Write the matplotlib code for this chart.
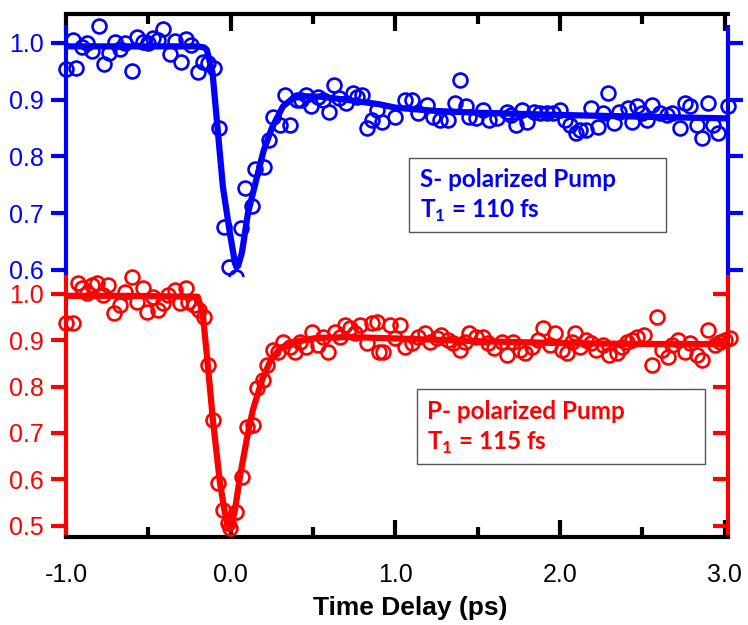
import matplotlib
matplotlib.use("Agg")
import matplotlib.pyplot as plt
from matplotlib.patches import Rectangle
from matplotlib.ticker import MultipleLocator, FormatStrFormatter

plt.rcParams['font.family'] = ['Liberation Sans', 'DejaVu Sans']
plt.rcParams['axes.unicode_minus'] = False
plt.rcParams['mathtext.fontset'] = 'custom'
plt.rcParams['mathtext.rm'] = 'Lato:bold'
plt.rcParams['mathtext.bf'] = 'Lato:bold'

BLUE = '#0000ff'
RED = '#ff0000'

# S-polarized pump: measured points (time in ps, normalized signal)
s_t = [-1.00, -0.96, -0.94, -0.90, -0.87, -0.84, -0.80, -0.77, -0.74, -0.70,
       -0.67, -0.64, -0.60, -0.57, -0.53, -0.50, -0.47, -0.44, -0.41, -0.37,
       -0.34, -0.30, -0.27, -0.24, -0.20, -0.17, -0.14, -0.10, -0.07, -0.04,
       -0.01, 0.03, 0.06, 0.09, 0.13, 0.15, 0.20, 0.23, 0.26, 0.30,
       0.33, 0.36, 0.40, 0.43, 0.46, 0.49, 0.53, 0.56, 0.60, 0.63,
       0.66, 0.70, 0.74, 0.77, 0.80, 0.83, 0.86, 0.89, 0.92, 1.00,
       1.06, 1.10, 1.14, 1.19, 1.23, 1.27, 1.32, 1.36, 1.39, 1.43,
       1.45, 1.49, 1.53, 1.57, 1.62, 1.68, 1.70, 1.73, 1.77, 1.80,
       1.84, 1.88, 1.92, 1.96, 2.00, 2.03, 2.06, 2.10, 2.12, 2.16,
       2.19, 2.23, 2.26, 2.29, 2.33, 2.36, 2.41, 2.44, 2.47, 2.50,
       2.53, 2.56, 2.61, 2.65, 2.68, 2.73, 2.76, 2.79, 2.83, 2.86,
       2.90, 2.93, 2.96, 3.02]
s_y = [0.954, 1.005, 0.956, 0.993, 1.000, 0.985, 1.030, 0.963, 0.982, 1.002,
       0.989, 1.000, 0.951, 1.010, 1.002, 1.000, 1.008, 1.005, 1.025, 0.980,
       1.004, 0.967, 1.007, 0.996, 0.948, 0.967, 0.964, 0.956, 0.850, 0.676,
       0.605, 0.588, 0.674, 0.744, 0.713, 0.777, 0.782, 0.829, 0.870, 0.855,
       0.908, 0.855, 0.900, 0.900, 0.908, 0.888, 0.905, 0.900, 0.878, 0.926,
       0.903, 0.894, 0.912, 0.905, 0.908, 0.850, 0.864, 0.882, 0.861, 0.870,
       0.900, 0.900, 0.877, 0.891, 0.870, 0.864, 0.864, 0.894, 0.935, 0.889,
       0.870, 0.868, 0.882, 0.864, 0.868, 0.878, 0.873, 0.855, 0.882, 0.861,
       0.878, 0.877, 0.877, 0.877, 0.882, 0.864, 0.855, 0.841, 0.847, 0.847,
       0.885, 0.852, 0.877, 0.912, 0.859, 0.878, 0.885, 0.861, 0.888, 0.877,
       0.864, 0.891, 0.877, 0.873, 0.877, 0.850, 0.894, 0.888, 0.855, 0.832,
       0.894, 0.855, 0.841, 0.888]

# S-polarized fit curve
s_fit_t = [-1.00, -0.60, -0.20, -0.16, -0.145, -0.11, -0.077, -0.047, -0.005,
           0.026, 0.035, 0.045, 0.068, 0.105, 0.16, 0.20, 0.25, 0.317, 0.38,
           0.46, 0.55, 0.70, 0.90, 1.00, 1.25, 1.50, 2.00, 2.50, 3.02]
s_fit_y = [0.994, 0.994, 0.994, 0.992, 0.988, 0.947, 0.841, 0.746, 0.665,
           0.612, 0.605, 0.607, 0.630, 0.700, 0.764, 0.810, 0.850, 0.888, 0.903,
           0.906, 0.905, 0.900, 0.892, 0.886, 0.880, 0.877, 0.873, 0.870, 0.867]

# P-polarized pump: measured points
p_t = [-1.00, -0.96, -0.93, -0.90, -0.87, -0.84, -0.81, -0.775, -0.745, -0.71,
       -0.67, -0.64, -0.60, -0.57, -0.53, -0.51, -0.47, -0.44, -0.41, -0.38,
       -0.34, -0.31, -0.27, -0.26, -0.22, -0.19, -0.16, -0.14, -0.11, -0.075,
       -0.047, -0.017, -0.005, 0.035, 0.066, 0.10, 0.135, 0.16, 0.196, 0.22,
       0.257, 0.287, 0.317, 0.36, 0.39, 0.42, 0.457, 0.493, 0.53, 0.56,
       0.59, 0.633, 0.663, 0.693, 0.724, 0.754, 0.785, 0.827, 0.857, 0.89,
       0.90, 0.924, 0.967, 0.997, 1.027, 1.058, 1.10, 1.137, 1.18, 1.21,
       1.25, 1.28, 1.32, 1.35, 1.39, 1.42, 1.45, 1.49, 1.53, 1.56,
       1.60, 1.645, 1.675, 1.713, 1.755, 1.786, 1.828, 1.865, 1.895, 1.937,
       1.968, 2.01, 2.04, 2.07, 2.09, 2.12, 2.16, 2.19, 2.22, 2.26,
       2.30, 2.345, 2.375, 2.405, 2.44, 2.47, 2.51, 2.56, 2.59, 2.62,
       2.655, 2.68, 2.715, 2.757, 2.79, 2.83, 2.86, 2.90, 2.94, 2.97,
       3.00, 3.03]
p_y = [0.937, 0.937, 1.024, 1.013, 1.002, 1.020, 1.024, 0.998, 1.020, 0.959,
       0.976, 1.004, 1.037, 0.983, 1.013, 0.961, 0.994, 0.965, 0.980, 0.998,
       1.009, 0.980, 1.013, 0.983, 0.976, 0.965, 0.950, 0.847, 0.728, 0.592,
       0.533, 0.505, 0.495, 0.529, 0.605, 0.713, 0.717, 0.797, 0.814, 0.847,
       0.879, 0.875, 0.896, 0.886, 0.875, 0.896, 0.886, 0.918, 0.890, 0.907,
       0.875, 0.918, 0.907, 0.933, 0.927, 0.916, 0.933, 0.894, 0.937, 0.940,
       0.875, 0.875, 0.933, 0.905, 0.933, 0.886, 0.894, 0.907, 0.916, 0.896,
       0.905, 0.911, 0.900, 0.894, 0.879, 0.896, 0.916, 0.907, 0.907, 0.894,
       0.883, 0.896, 0.868, 0.896, 0.879, 0.872, 0.886, 0.900, 0.926, 0.890,
       0.916, 0.879, 0.872, 0.896, 0.916, 0.886, 0.900, 0.894, 0.879, 0.890,
       0.868, 0.872, 0.886, 0.896, 0.900, 0.907, 0.911, 0.847, 0.950, 0.879,
       0.864, 0.890, 0.900, 0.875, 0.894, 0.868, 0.857, 0.922, 0.890, 0.896,
       0.900, 0.905]

# P-polarized fit curve
p_fit_t = [-1.00, -0.60, -0.20, -0.17, -0.14, -0.108, -0.065, -0.035, -0.01,
           0.00, 0.026, 0.056, 0.10, 0.135, 0.19, 0.238, 0.30, 0.38, 0.52,
           0.72, 1.00, 1.50, 2.00, 2.50, 3.02]
p_fit_y = [0.996, 0.996, 0.994, 0.959, 0.851, 0.728, 0.592, 0.527, 0.492,
           0.494, 0.533, 0.605, 0.691, 0.750, 0.814, 0.853, 0.883, 0.896, 0.905,
           0.907, 0.904, 0.898, 0.894, 0.892, 0.892]

s_label = 'S- polarized Pump\nT$_{1}$ = 110 fs'
p_label = 'P- polarized Pump\nT$_{1}$ = 115 fs'

fig = plt.figure(figsize=(7.48, 6.25), dpi=100)
W, H = 748.0, 625.0
left, right = 66 / W, 728 / W
ax1 = fig.add_axes([left, 1 - 277 / H, right - left, (277 - 14) / H])
ax2 = fig.add_axes([left, 1 - 537 / H, right - left, (537 - 277) / H])

for ax, t, y, ft, fy, col in [(ax1, s_t, s_y, s_fit_t, s_fit_y, BLUE),
                              (ax2, p_t, p_y, p_fit_t, p_fit_y, RED)]:
    ax.plot(t, y, 'o', ms=10, mfc='none', mec=col, mew=1.9, clip_on=False, zorder=3)
    ax.plot(ft, fy, '-', color=col, lw=4.5, solid_capstyle='butt', zorder=4)
    ax.set_xlim(-1.0, 3.02)
    ax.xaxis.set_major_locator(MultipleLocator(1.0))
    ax.xaxis.set_minor_locator(MultipleLocator(0.5))
    ax.yaxis.set_major_formatter(FormatStrFormatter('%.1f'))
    for side in ['left', 'right']:
        ax.spines[side].set_color(col)
        ax.spines[side].set_linewidth(3)
    ax.tick_params(axis='y', which='major', colors=col, labelcolor=col,
                   labelsize=18, length=11, width=3, pad=5, right=True)

ax1.set_ylim(0.5873, 1.0511)
ax1.spines['left'].set_bounds(0.5873, 1.028)
ax1.spines['right'].set_bounds(0.5873, 1.028)
ax1.spines['bottom'].set_visible(False)
ax1.spines['top'].set_linewidth(3)
ax1.set_yticks([0.6, 0.7, 0.8, 0.9, 1.0])
ax1.tick_params(axis='y', direction='out')
ax1.xaxis.tick_top()
ax1.tick_params(axis='x', which='major', direction='in', length=12, width=3,
                labeltop=False, labelbottom=False, bottom=False)
ax1.tick_params(axis='x', which='minor', direction='in', length=7, width=3,
                labeltop=False, bottom=False)

ax2.set_ylim(0.4752, 1.0367)
ax2.spines['top'].set_visible(False)
ax2.spines['bottom'].set_linewidth(3)
ax2.set_yticks([0.5, 0.6, 0.7, 0.8, 0.9, 1.0])
ax2.tick_params(axis='y', which='major', left=True, direction='out')
ax2.tick_params(axis='y', which='major', right=True, labelright=False)
for tk in ax2.yaxis.get_major_ticks():
    tk.tick2line.set_marker(matplotlib.lines.TICKLEFT)
ax2.xaxis.set_major_formatter(FormatStrFormatter('%.1f'))
ax2.tick_params(axis='x', which='major', direction='in', length=12, width=3,
                labelsize=18, pad=19, top=False)
ax2.tick_params(axis='x', which='minor', direction='in', length=7, width=3, top=False)

fig.text(410 / W, 1 - 608 / H, 'Time Delay (ps)', ha='center', va='center',
         fontsize=19, fontweight='bold')

# annotation boxes (axes fractions)
ax1.add_patch(Rectangle((0.518, 0.171), 0.388, 0.281, transform=ax1.transAxes,
                        fc='white', ec='#555555', lw=1, zorder=5))
ax1.text(0.534, 0.308, s_label, transform=ax1.transAxes, ha='left', va='center',
         color=BLUE, fontsize=17.5, fontweight='bold', family='Lato',
         linespacing=1.35, zorder=6)
ax2.add_patch(Rectangle((0.530, 0.281), 0.435, 0.288, transform=ax2.transAxes,
                        fc='white', ec='#555555', lw=1, zorder=5))
ax2.text(0.546, 0.418, p_label, transform=ax2.transAxes, ha='left', va='center',
         color=RED, fontsize=17.5, fontweight='bold', family='Lato',
         linespacing=1.35, zorder=6)

fig.savefig('out.png', dpi=100)
